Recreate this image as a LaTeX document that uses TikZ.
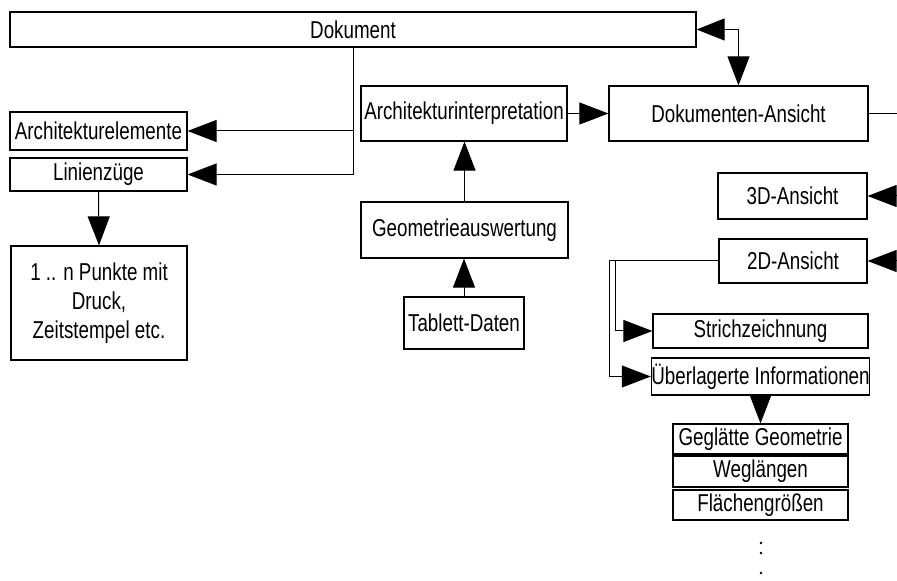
\documentclass[tikz,border=0pt]{standalone}
\usepackage{fontspec}
\setmainfont{Liberation Sans}[FakeStretch=0.77]
\usetikzlibrary{arrows.meta}

\tikzset{
  box/.style={draw, line width=0.6pt, inner sep=0pt, align=center},
  arr/.style={line width=0.5pt, -{Triangle[length=14.5pt,width=11pt]}},
  arrtwo/.style={line width=0.5pt, {Triangle[length=14pt,width=11pt]}-{Triangle[length=14.5pt,width=11pt]}}
}

\begin{document}
\begin{tikzpicture}[x=0.5pt,y=-0.5pt,font=\fontsize{12.2}{14.4}\selectfont]
\useasboundingbox (0,0) rectangle (897,581);
\clip (0,0) rectangle (897,581);
\node[box, minimum width=343pt, minimum height=17.5pt] (dok) at (353,29.5) {Dokument};
\node[box, minimum width=88.5pt, minimum height=19pt] (archel) at (98.5,131) {Architekturelemente};
\node[box, minimum width=88.5pt, minimum height=16.5pt] (linien) at (98.5,174.5) {Linienzüge};
\node[box, minimum width=88pt, minimum height=57pt] (punkte) at (99,303) {1 .. n Punkte mit\\Druck,\\Zeitstempel etc.};
\node[box, minimum width=103pt, minimum height=27.5pt] (archint) at (464,113.5) {Architekturinterpretation};
\node[box, minimum width=103.5pt, minimum height=28pt] (geom) at (464.5,230) {Geometrieauswertung};
\node[box, minimum width=60pt, minimum height=26pt] (tablett) at (464,323) {Tablett-Daten};
\node[box, minimum width=129.5pt, minimum height=27.5pt] (dokans) at (738.5,113.5) {Dokumenten-Ansicht};
\node[box, minimum width=74.5pt, minimum height=23pt] (ansdrei) at (792.5,196) {3D-Ansicht};
\node[box, minimum width=74pt, minimum height=22pt] (anszwei) at (793,261) {2D-Ansicht};
\node[box, minimum width=107.5pt, minimum height=17pt] (strich) at (760.5,331) {Strichzeichnung};
\node[box, minimum width=107.5pt, minimum height=18.5pt] (ueber) at (760.5,376.5) {Überlagerte Informationen};
\node[box, minimum width=87.5pt, minimum height=15pt] (glatt) at (760.5,439) {Geglätte Geometrie};
\node[box, minimum width=87.5pt, minimum height=15.5pt] (weg) at (760.5,471.5) {Weglängen};
\node[box, minimum width=87.5pt, minimum height=15pt] (flaeche) at (760.5,505) {Flächengrößen};
\coordinate (randa) at (897,113.5);
\coordinate (randb) at (910,196);
\coordinate (randc) at (910,261);
\coordinate (knicka) at (609,261);
\coordinate (knickb) at (615,261);
\draw[arr] (dok.south) |- (linien.east);
\draw[arr] (dok.south |- archel.east) -- (archel.east);
\draw[arr] (linien.south) -- (punkte.north);
\draw[arr] (archint.east) -- (dokans.west);
\draw[arr] (geom.north) -- (geom.north |- archint.south);
\draw[arr] (tablett.north) -- (tablett.north |- geom.south);
\draw[arrtwo] (dok.east) -| (dokans.north);
\draw[line width=0.5pt] (dokans.east) -- (randa);
\draw[arr] (randb) -- (ansdrei.east);
\draw[arr] (randc) -- (anszwei.east);
\draw[arr] (anszwei.west) -- (knicka) |- (ueber.west);
\draw[arr] (knickb) |- (strich.west);
\draw[arr] (ueber.south) -- (ueber.south |- glatt.north);
\fill (761,543) circle (1.3);
\fill (761,553) circle (1.3);
\fill (761,573) circle (1.3);
\end{tikzpicture}
\end{document}
